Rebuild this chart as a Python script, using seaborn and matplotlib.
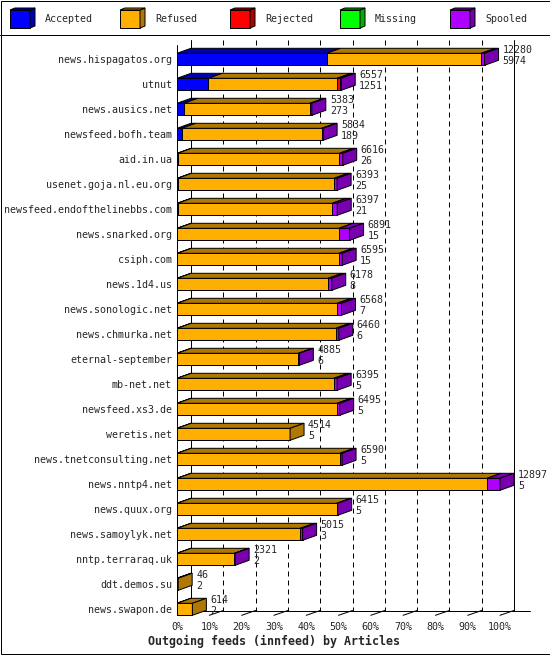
import matplotlib
matplotlib.use("Agg")
import matplotlib.pyplot as plt
from matplotlib.patches import Polygon, Rectangle
import pandas as pd
import seaborn as sns

# innfeed outgoing feeds, articles per peer
hosts = ["news.hispagatos.org", "utnut", "news.ausics.net", "newsfeed.bofh.team",
         "aid.in.ua", "usenet.goja.nl.eu.org", "newsfeed.endofthelinebbs.com",
         "news.snarked.org", "csiph.com", "news.1d4.us", "news.sonologic.net",
         "news.chmurka.net", "eternal-september", "mb-net.net", "newsfeed.xs3.de",
         "weretis.net", "news.tnetconsulting.net", "news.nntp4.net", "news.quux.org",
         "news.samoylyk.net", "nntp.terraraq.uk", "ddt.demos.su", "news.swapon.de"]
offered = [12280, 6557, 5383, 5834, 6616, 6393, 6397, 6891, 6595, 6178, 6568, 6460,
           4885, 6395, 6495, 4514, 6590, 12897, 6415, 5015, 2321, 46, 614]
accepted = [5974, 1251, 273, 189, 26, 25, 21, 15, 15, 8, 7, 6,
            6, 5, 5, 5, 5, 5, 5, 3, 2, 2, 2]
refused = [6173, 5139, 5030, 5585, 6460, 6248, 6176, 6449, 6447, 6022, 6388, 6334,
           4839, 6257, 6383, 4509, 6505, 12372, 6370, 4917, 2289, 44, 612]
rejected = [0, 107, 0, 0, 0, 0, 0, 0, 0, 0, 0, 0,
            0, 0, 0, 0, 0, 0, 0, 0, 0, 0, 0]
missing = [0] * 23
spooled = [133, 60, 80, 60, 130, 120, 200, 427, 133, 148, 173, 120,
           40, 133, 107, 0, 80, 520, 40, 95, 30, 0, 0]

series = ["Accepted", "Refused", "Rejected", "Missing", "Spooled"]
front = ["#0000FF", "#FFAF00", "#FF0000", "#00FF00", "#AF00FF"]
dark = ["#0000AF", "#AF7800", "#AF0000", "#00AF00", "#7800AF"]

sns.set_theme(style="white")
plt.rcParams["font.family"] = ["DejaVu Sans Mono"]
plt.rcParams["font.size"] = 7.2

W, H = 550, 655
LW = 0.72
fig = plt.figure(figsize=(5.5, 6.55), dpi=100)

# background: frame, separator and legend, in pixel units
bg = fig.add_axes([0, 0, 1, 1])
bg.set_xlim(0, W)
bg.set_ylim(H, 0)
bg.axis("off")
bg.add_patch(Rectangle((0.5, 0.5), W - 1, H - 1.5, fill=False, ec="black", lw=LW))
bg.plot([0, W], [35, 35], color="black", lw=LW)
for j, name in enumerate(series):
    x0 = 10 + 110 * j
    bg.add_patch(Rectangle((x0, 10), 20, 18, fc=front[j], ec="black", lw=LW))
    bg.add_patch(Polygon([(x0 + 20, 10), (x0 + 20, 28), (x0 + 25, 26), (x0 + 25, 8)],
                         fc=dark[j], ec="black", lw=LW))
    bg.add_patch(Polygon([(x0, 10), (x0 + 20, 10), (x0 + 25, 8), (x0 + 5, 8)],
                         fc=dark[j], ec="black", lw=LW))
    bg.text(x0 + 35, 19.5, name, va="center", ha="left")

# main chart
XMAX = max(offered)
PPX = 323 / XMAX           # pixels per article
ROW0, ROWH = 59.3, 25.0


def dx(px):
    return px / PPX


def ry(py):
    return (py - ROW0) / ROWH


ax = fig.add_axes([177 / W, 1 - 616 / H, (548 - 177) / W, (616 - 38) / H])
ax.patch.set_alpha(0)

df = pd.DataFrame({"host": hosts, "Accepted": accepted, "Refused": refused,
                   "Rejected": rejected, "Missing": missing, "Spooled": spooled})
cum = df[series].cumsum(axis=1)
BH = 12 / ROWH
for k in range(len(series) - 1, -1, -1):
    sns.barplot(x=cum[series[k]], y=df["host"], order=hosts, color=front[k],
                saturation=1, width=BH, edgecolor="black", linewidth=LW,
                errorbar=None, orient="h", ax=ax, zorder=2)

DX = dx(14)
DY = 5 / ROWH
h = BH / 2
for i in range(len(hosts)):
    start = 0
    last = 0
    for k, s in enumerate(series):
        end = cum[s][i]
        if end > start:
            ax.add_patch(Polygon([(start, i - h), (end, i - h), (end + DX, i - h - DY),
                                  (start + DX, i - h - DY)],
                                 fc=dark[k], ec="black", lw=LW, zorder=3))
            last = k
        start = end
    T = start
    ax.add_patch(Polygon([(T, i - h), (T, i + h), (T + DX, i + h - DY), (T + DX, i - h - DY)],
                         fc=dark[last], ec="black", lw=LW, zorder=3))
    ax.text(T + DX + dx(4), i - 9.3 / ROWH, str(offered[i]), va="center", ha="left")
    ax.text(T + DX + dx(4), i + 1.5 / ROWH, str(accepted[i]), va="center", ha="left")

# back wall grid, floor and axes lines
for k in range(11):
    xb = DX + k * XMAX / 10
    ls = "-" if k in (0, 10) else (0, (5, 4))
    ax.plot([xb, xb], [ry(40), ry(610.5)], color="black", lw=LW, ls=ls, zorder=0.5)
    xf = k * XMAX / 10
    ax.plot([xf, xf + DX], [ry(615.3), ry(610.5)], color="black", lw=LW, zorder=0.5)
ax.plot([0, 0], [ry(45), ry(615.3)], color="black", lw=LW, zorder=1)
ax.plot([DX, dx(530 - 177)], [ry(610.5), ry(610.5)], color="black", lw=LW, zorder=0.5)

ax.set_xlim(0, dx(548 - 177))
ax.set_ylim(ry(616), ry(38))
ax.set_yticks(range(len(hosts)))
ax.set_yticklabels(hosts)
ax.set_xticks([k * XMAX / 10 for k in range(11)])
ax.set_xticklabels([f"{k * 10}%" for k in range(11)])
ax.tick_params(axis="y", length=0, pad=3.6, labelsize=7.2)
ax.tick_params(axis="x", length=0, pad=4.3, labelsize=7.2)
ax.set_xlabel("")
ax.set_ylabel("")
for sp in ax.spines.values():
    sp.set_visible(False)

fig.text(273.5 / W, 1 - 641 / H, "Outgoing feeds (innfeed) by Articles",
         ha="center", va="center", fontsize=8.4, fontweight="bold")

fig.savefig("out.png", dpi=100)
